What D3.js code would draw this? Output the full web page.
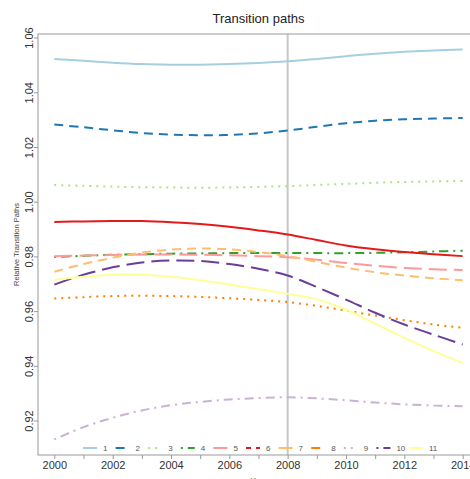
<!DOCTYPE html>
<html>
<head>
<meta charset="utf-8">
<script src="https://cdn.jsdelivr.net/npm/d3@7"></script>
<style>
  html, body { margin: 0; padding: 0; background: #fff; overflow: hidden; }
  svg { display: block; font-family: "Liberation Sans", Arial, sans-serif; }
</style>
</head>
<body>
<div id="chart"></div>
<script>
const years = d3.range(2000, 2015);
const seriesNames = ["1", "2", "3", "4", "5", "6", "7", "8", "9", "10", "11"];
const colors = ["#a6cee3", "#1f78b4", "#b2df8a", "#33a02c", "#fb9a99", "#e31a1c",
                "#fdbf6f", "#ff7f00", "#cab2d6", "#6a3d9a", "#ffff99"];

const s1  = [1.0522, 1.0515, 1.0508, 1.0503, 1.0501, 1.0501, 1.0503, 1.0507, 1.0513, 1.0522, 1.0532, 1.0541, 1.0548, 1.0553, 1.0556];
const s2  = [1.0282, 1.0272, 1.0261, 1.0251, 1.0245, 1.0243, 1.0244, 1.0250, 1.0260, 1.0274, 1.0287, 1.0296, 1.0301, 1.0304, 1.0306];
const s3  = [1.0061, 1.0058, 1.0055, 1.0053, 1.0052, 1.0051, 1.0052, 1.0054, 1.0057, 1.0061, 1.0065, 1.0069, 1.0072, 1.0074, 1.0076];
const s4  = [0.9798, 0.9802, 0.9806, 0.9808, 0.9810, 0.9811, 0.9812, 0.9812, 0.9812, 0.9812, 0.9812, 0.9813, 0.9815, 0.9818, 0.9821];
const s5  = [0.9801, 0.9803, 0.9805, 0.9807, 0.9807, 0.9806, 0.9804, 0.9801, 0.9797, 0.9788, 0.9776, 0.9766, 0.9758, 0.9753, 0.9750];
const s6  = [0.9926, 0.9928, 0.9929, 0.9929, 0.9925, 0.9918, 0.9908, 0.9895, 0.9880, 0.9860, 0.9840, 0.9826, 0.9816, 0.9808, 0.9801];
const s7  = [0.9744, 0.9772, 0.9795, 0.9814, 0.9825, 0.9829, 0.9826, 0.9816, 0.9801, 0.9780, 0.9759, 0.9742, 0.9730, 0.9720, 0.9713];
const s8  = [0.9646, 0.9651, 0.9655, 0.9656, 0.9655, 0.9652, 0.9647, 0.9641, 0.9633, 0.9619, 0.9602, 0.9584, 0.9567, 0.9551, 0.9539];
const s9  = [0.9131, 0.9176, 0.9210, 0.9237, 0.9256, 0.9268, 0.9277, 0.9282, 0.9285, 0.9281, 0.9274, 0.9266, 0.9259, 0.9255, 0.9252];
const s10 = [0.9697, 0.9733, 0.9760, 0.9778, 0.9785, 0.9783, 0.9772, 0.9755, 0.9730, 0.9688, 0.9642, 0.9594, 0.9551, 0.9514, 0.9478];
const s11 = [0.9715, 0.9726, 0.9733, 0.9733, 0.9726, 0.9713, 0.9697, 0.9681, 0.9663, 0.9643, 0.9606, 0.9554, 0.9502, 0.9454, 0.9411];
const allSeries = [s1, s2, s3, s4, s5, s6, s7, s8, s9, s10, s11];

const yTicks = [0.92, 0.94, 0.96, 0.98, 1.00, 1.02, 1.04, 1.06];
const markerYear = 2008;

// R line types: solid, dashed, dotted, dotdash, longdash, twodash
const ltys = [null, "9,6", "2,5", "2,5,9,5", "18,7", "5,5,13,5"];

const width = 470, height = 479;
const box = { left: 38, right: 479, top: 34, bottom: 455 };

const svg = d3.select("#chart").append("svg")
  .attr("width", width)
  .attr("height", height);

// R-style 4% padding on both axes
const xPad = 0.04 * (years[years.length - 1] - years[0]);
const x = d3.scaleLinear()
  .domain([years[0] - xPad, years[years.length - 1] + xPad])
  .range([box.left, box.right]);

const yMin = d3.min(allSeries, s => d3.min(s)), yMax = d3.max(allSeries, s => d3.max(s));
const yPad = 0.04 * (yMax - yMin);
const y = d3.scaleLinear()
  .domain([yMin - yPad, yMax + yPad])
  .range([box.bottom, box.top]);

// vertical marker line
svg.append("line")
  .attr("x1", x(markerYear)).attr("x2", x(markerYear))
  .attr("y1", box.top).attr("y2", box.bottom)
  .attr("stroke", "#c8c8c8")
  .attr("stroke-width", 2);

// plot box
svg.append("rect")
  .attr("x", box.left).attr("y", box.top)
  .attr("width", box.right - box.left).attr("height", box.bottom - box.top)
  .attr("fill", "none")
  .attr("stroke", "#9a9a9a");

// x axis
const xAxis = svg.append("g")
  .attr("transform", `translate(0,${box.bottom})`)
  .call(d3.axisBottom(x).tickValues(years).tickSize(4).tickFormat(d => d % 2 === 0 ? d : ""));
xAxis.select(".domain").remove();
xAxis.selectAll(".tick line").attr("stroke", "#9a9a9a");
xAxis.selectAll("text")
  .attr("y", 6)
  .attr("fill", "#333")
  .style("font-size", "11px")
  .style("font-family", "Liberation Sans, Arial, sans-serif");

// y axis
const yAxis = svg.append("g")
  .attr("transform", `translate(${box.left},0)`)
  .call(d3.axisLeft(y).tickValues(yTicks).tickSize(4).tickFormat(d3.format(".2f")));
yAxis.select(".domain").remove();
yAxis.selectAll(".tick line").attr("stroke", "#9a9a9a");
yAxis.selectAll("text")
  .attr("x", 0).attr("y", 0).attr("dy", null)
  .attr("transform", "translate(-5,0) rotate(-90)")
  .attr("text-anchor", "middle")
  .attr("fill", "#333")
  .style("font-size", "11px")
  .style("font-family", "Liberation Sans, Arial, sans-serif");

// series lines
const line = d3.line()
  .x((d, i) => x(years[i]))
  .y(d => y(d))
  .curve(d3.curveCatmullRom.alpha(0.5));

allSeries.forEach((s, i) => {
  svg.append("path")
    .datum(s)
    .attr("d", line)
    .attr("fill", "none")
    .attr("stroke", colors[i])
    .attr("stroke-width", 2)
    .attr("stroke-dasharray", ltys[i % 5]);
});

// title and labels
svg.append("text")
  .attr("x", (box.left + box.right) / 2).attr("y", 22.5)
  .attr("text-anchor", "middle")
  .attr("fill", "#222")
  .style("font-size", "13px")
  .text("Transition paths");

svg.append("text")
  .attr("transform", `translate(19,${(box.top + box.bottom) / 2}) rotate(-90)`)
  .attr("text-anchor", "middle")
  .attr("fill", "#444")
  .style("font-size", "7.5px")
  .text("Relative Transition Paths");

svg.append("text")
  .attr("x", (box.left + box.right) / 2).attr("y", 483)
  .attr("text-anchor", "middle")
  .attr("fill", "#444")
  .style("font-size", "8px")
  .text("Year");

// legend
const legend = svg.append("g").attr("transform", "translate(0,448)");
seriesNames.forEach((name, i) => {
  const lx = 103 + i * 32.6;
  legend.append("line")
    .attr("x1", lx - 20).attr("x2", lx - 6)
    .attr("stroke", colors[i])
    .attr("stroke-width", 2)
    .attr("stroke-dasharray", ltys[i % 6]);
  legend.append("text")
    .attr("x", lx).attr("y", 3)
    .attr("fill", "#555")
    .style("font-size", "8px")
    .text(name);
});
</script>
</body>
</html>
